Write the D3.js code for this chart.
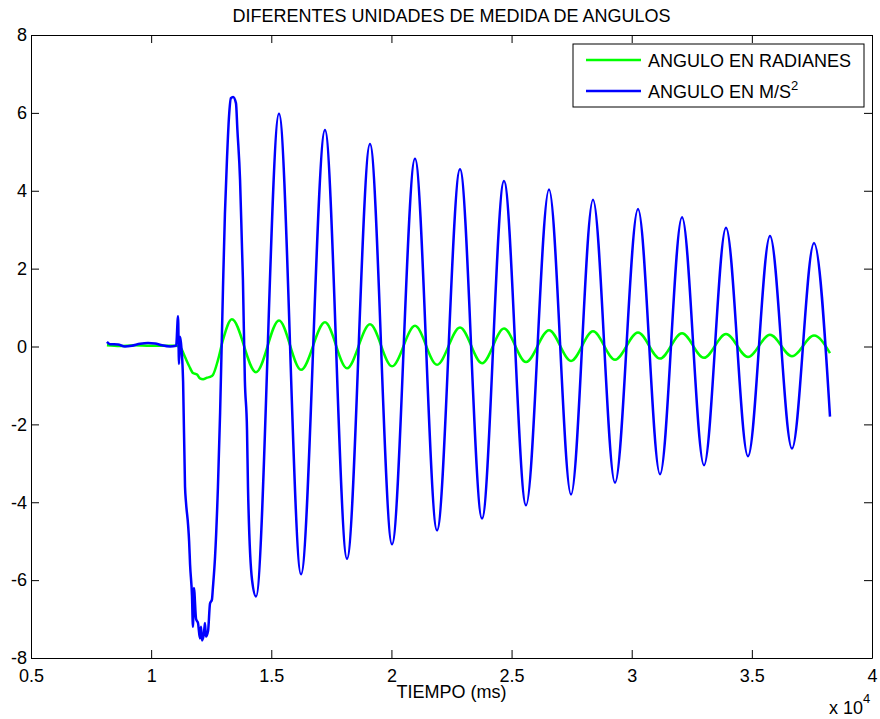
<!DOCTYPE html>
<html>
<head>
<meta charset="utf-8">
<script src="https://cdn.jsdelivr.net/npm/d3@7"></script>
<style>
  body { margin: 0; background: #fff; }
  text { font-family: "Liberation Sans", Arial, sans-serif; fill: #000; }
</style>
</head>
<body>
<svg id="chart" width="880" height="719"></svg>
<script>
// tick labels and axis info
var xTicks = [5000, 10000, 15000, 20000, 25000, 30000, 35000, 40000];
var xTickLabels = ["0.5", "1", "1.5", "2", "2.5", "3", "3.5", "4"];
var yTicks = [-8, -6, -4, -2, 0, 2, 4, 6, 8];

// ANGULO EN M/S^2 (blue), time in ms
var blueT = [8160, 8290, 8620, 8910, 9200, 9540, 9870, 10160, 10450, 10790, 11040,
  11120, 11160, 11200, 11240, 11330, 11410, 11450, 11540, 11580, 11620, 11700, 11740,
  11780, 11870, 11950, 12030, 12075, 12120, 12200, 12240, 12280, 12370, 12450, 12530,
  12570, 12660, 12780, 12870, 12990, 13070, 13160, 13240, 13320, 13410, 13530, 13590,
  13700, 13780, 13820, 13900, 13990, 14030, 14200, 14364,
  15321, 16237, 17235, 18151, 19108, 20024, 20981, 21897, 22854, 23770, 24685,
  25601, 26558, 27474, 28389, 29305, 30262, 31177, 32093, 33008, 33924, 34839,
  35755, 36670, 37586, 38252];
var blueV = [0.12, 0.06, 0.05, 0.0, 0.02, 0.07, 0.09, 0.08, 0.03, 0.0, 0.02,
  0.78, -0.45, 0.25, 0.1, -0.9, -3.6, -4.0, -4.6, -5.0, -5.6, -6.4, -7.2,
  -6.2, -7.0, -7.1, -7.5, -7.2, -7.55, -7.35, -7.1, -7.45, -7.3, -6.6, -6.5,
  -6.2, -5.4, -3.6, -1.7, 1.5, 3.4, 4.87, 5.9, 6.38, 6.41, 6.25, 5.56,
  4.28, 2.56, 1.7, -0.86, -2.15, -3.6, -6.0, -6.42,
  5.98, -5.85, 5.56, -5.45, 5.2, -5.08, 4.82, -4.72, 4.55, -4.42, 4.25,
  -4.08, 4.03, -3.8, 3.77, -3.5, 3.53, -3.28, 3.32, -3.05, 3.05, -2.82,
  2.84, -2.62, 2.66, -1.8];

// ANGULO EN RADIANES (green), time in ms
var greenT = [8160, 8700, 9300, 9950, 10580, 11040, 11240, 11410, 11580, 11740,
  11910, 12030, 12160, 12330, 12450, 12570, 12780, 12990, 13360,
  14364, 15321, 16237, 17235, 18151, 19108, 20024, 20981, 21897, 22854, 23770,
  24685, 25601, 26558, 27474, 28389, 29305, 30262, 31177, 32093, 33008, 33924,
  34839, 35755, 36670, 37586, 38252];
var greenV = [0.03, 0.01, 0.03, 0.02, 0.02, 0.02, -0.05, -0.27, -0.5, -0.68,
  -0.72, -0.82, -0.84, -0.8, -0.78, -0.73, -0.35, 0.17, 0.7,
  -0.66, 0.67, -0.6, 0.62, -0.56, 0.57, -0.51, 0.53, -0.47, 0.49, -0.43,
  0.46, -0.4, 0.42, -0.37, 0.39, -0.34, 0.36, -0.31, 0.34, -0.29, 0.32,
  -0.27, 0.3, -0.25, 0.28, -0.17];

var svg = d3.select("#chart");
var margin = { left: 31, right: 8, top: 35, bottom: 61 };
var width = 880 - margin.left - margin.right;
var height = 719 - margin.top - margin.bottom;
var fontSize = "18px";

var x = d3.scaleLinear().domain([5000, 40000]).range([margin.left, margin.left + width]);
var y = d3.scaleLinear().domain([-8, 8]).range([margin.top + height, margin.top]);

var g = svg.append("g");

// data lines
var line = d3.line()
    .x(d => x(d[0]))
    .y(d => y(d[1]))
    .curve(d3.curveMonotoneX);

g.append("path")
    .datum(d3.zip(greenT, greenV))
    .attr("fill", "none")
    .attr("stroke", "#00ff00")
    .attr("stroke-width", 2.5)
    .attr("stroke-linejoin", "round")
    .attr("d", line);

g.append("path")
    .datum(d3.zip(blueT, blueV))
    .attr("fill", "none")
    .attr("stroke", "#0000ff")
    .attr("stroke-width", 2.5)
    .attr("stroke-linejoin", "round")
    .attr("d", line);

// axes, matlab style: inward ticks on all four sides
var tickLen = 8;
var bottom = svg.append("g").attr("transform", "translate(0," + (margin.top + height) + ")")
    .call(d3.axisBottom(x).tickValues(xTicks).tickSizeInner(-tickLen).tickSizeOuter(0)
        .tickPadding(11).tickFormat((d, i) => xTickLabels[i]));
var top_ = svg.append("g").attr("transform", "translate(0," + margin.top + ")")
    .call(d3.axisTop(x).tickValues(xTicks).tickSizeInner(-tickLen).tickSizeOuter(0).tickFormat(""));
var left = svg.append("g").attr("transform", "translate(" + margin.left + ",0)")
    .call(d3.axisLeft(y).tickValues(yTicks).tickSizeInner(-tickLen).tickSizeOuter(0)
        .tickPadding(4).tickFormat(d => String(d)));
var right = svg.append("g").attr("transform", "translate(" + (margin.left + width) + ",0)")
    .call(d3.axisRight(y).tickValues(yTicks).tickSizeInner(-tickLen).tickSizeOuter(0).tickFormat(""));

[bottom, top_, left, right].forEach(function (a) {
    a.select(".domain").attr("stroke", "#000").attr("stroke-width", 1);
    a.selectAll(".tick line").attr("stroke", "#000");
    a.selectAll("text").style("font-size", fontSize).attr("fill", "#000")
        .style("font-family", '"Liberation Sans", Arial, sans-serif');
});

// title and labels
svg.append("text")
    .attr("x", margin.left + width / 2)
    .attr("y", 22)
    .attr("text-anchor", "middle")
    .style("font-size", fontSize)
    .text("DIFERENTES UNIDADES DE MEDIDA DE ANGULOS");

svg.append("text")
    .attr("x", margin.left + width / 2)
    .attr("y", 698)
    .attr("text-anchor", "middle")
    .style("font-size", fontSize)
    .text("TIEMPO (ms)");

var mult = svg.append("text")
    .attr("x", 829)
    .attr("y", 714)
    .style("font-size", fontSize);
mult.append("tspan").text("x 10");
mult.append("tspan").attr("dy", -11).style("font-size", "13px").text("4");

// legend
var leg = svg.append("g").attr("transform", "translate(573,44)");
leg.append("rect")
    .attr("width", 291).attr("height", 63)
    .attr("fill", "#fff").attr("stroke", "#000").attr("stroke-width", 1);

var legItems = [
    { label: "ANGULO EN RADIANES", color: "#00ff00" },
    { label: "ANGULO EN M/S", color: "#0000ff", sup: "2" }
];
legItems.forEach(function (d, i) {
    var yy = 16 + i * 31;
    leg.append("line")
        .attr("x1", 13).attr("x2", 68).attr("y1", yy).attr("y2", yy)
        .attr("stroke", d.color).attr("stroke-width", 2.5);
    var t = leg.append("text")
        .attr("x", 75).attr("y", yy + 6.5)
        .style("font-size", fontSize);
    t.append("tspan").text(d.label);
    if (d.sup) t.append("tspan").attr("dy", -8).style("font-size", "13px").text(d.sup);
});
</script>
</body>
</html>
